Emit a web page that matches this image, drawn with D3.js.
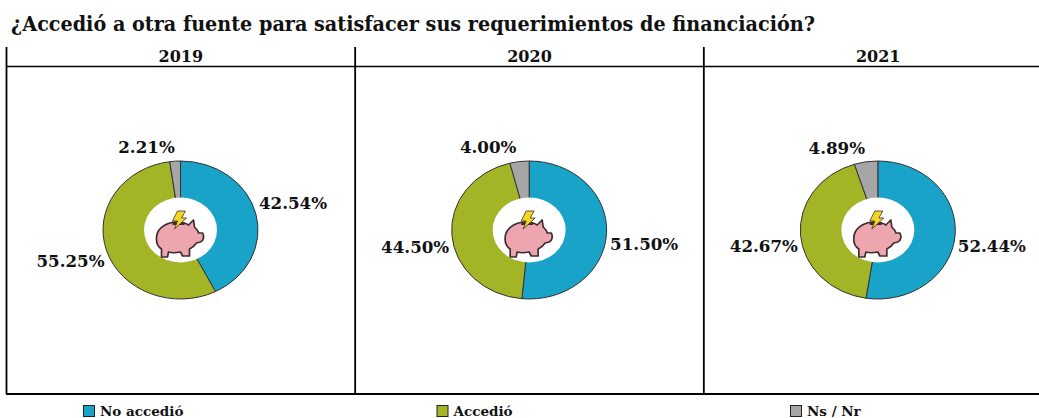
<!DOCTYPE html>
<html><head><meta charset="utf-8">
<script src="https://d3js.org/d3.v7.min.js"></script>
<style>html,body{margin:0;padding:0;background:#fff}svg{display:block}
text{font-family:"DejaVu Serif",serif;font-weight:bold;fill:#111}</style></head>
<body><svg id="c" width="1039" height="418"></svg>
<script>
const chartTitle="¿Accedió a otra fuente para satisfacer sus requerimientos de financiación?";
const years=["2019","2020","2021"];
const categories=["No accedió","Accedió","Ns / Nr"];
const colors=["#1aa3c8","#a3b527","#a6a6a6"];
const values2019=[42.54,55.25,2.21];
const values2020=[51.50,44.50,4.00];
const values2021=[52.44,42.67,4.89];
const allValues=[values2019,values2020,values2021];
const labelOffsets=[
 [[112.5,-21],[-110,37],[-34,-77]],
 [[115,20],[-114,23],[-41,-77]],
 [[114,22],[-114,22],[-41,-76]]
];
const svg=d3.select("#c");
svg.append("text").attr("x",11).attr("y",31).attr("font-size",20).attr("textLength",804).attr("lengthAdjust","spacingAndGlyphs").text(chartTitle);

const x=d3.scaleBand().domain(years).range([6.5,703.5+349]).paddingInner(0).paddingOuter(0);
const frameTop=47,head=66.5,bot=394;
const band=x.bandwidth();
const rule=(x1,y1,x2,y2,w)=>svg.append("line").attr("x1",x1).attr("y1",y1).attr("x2",x2).attr("y2",y2).attr("stroke","#000").attr("stroke-width",w);
rule(6.5,head,1039,head,1.3);
rule(6,bot,1039,bot,1.8);
years.forEach(y=>rule(x(y),frameTop,x(y),bot,1.8));

const pie=d3.pie().sort(null).value(d=>d);
const R=77.5, Ry=69, r=36.5;
const arc=d3.arc().innerRadius(r-1).outerRadius(R);
const defs=svg.append("defs");
const pig=defs.append("g").attr("id","pig");
const ink="#3f2c33";
pig.append("path").attr("d","M-22,6 C-23,-5 -13,-12 -1,-12 C4,-12 7,-11 10,-9 L15,-14 L16,-7 C18,-5 20,-3 20,-1 L24,-1 C26,2 25,7 22,8 L18,9 C16,12 13,14 11,15 L11,22 L4,22 L2,18 C-3,19 -7,19 -10,18 L-11,23 L-17,23 L-17,15 C-20,13 -22,10 -22,6 Z")
  .attr("fill","#eda6ad").attr("stroke",ink).attr("stroke-width",1.7).attr("stroke-linejoin","round");
pig.append("path").attr("d","M-6,-12 L6,-12 L6,-9 L-6,-9 Z").attr("fill",ink);
pig.append("path").attr("d","M-1,-23 L7,-23 L3,-16 L8,-16 L-4,-5 L-1,-13 L-6,-13 Z").attr("fill","#f4d81f").attr("stroke",ink).attr("stroke-width",0.8).attr("stroke-linejoin","round");

years.forEach((y,i)=>{
  const cx=x(y)+174, cy=230;
  svg.append("text").attr("x",x(y)+band/2).attr("y",62).attr("text-anchor","middle").attr("font-size",16).text(y);
  const g=svg.append("g").attr("transform",`translate(${cx},${cy}) scale(1,${Ry/R})`);
  g.selectAll("path").data(pie(allValues[i])).join("path")
    .attr("d",arc).attr("fill",(d,k)=>colors[k]).attr("stroke","#333").attr("stroke-width",1).attr("vector-effect","non-scaling-stroke");
  g.append("circle").attr("r",r).attr("fill","#fff");
  svg.append("use").attr("href","#pig").attr("x",cx-2).attr("y",cy+4);
  allValues[i].forEach((v,k)=>{
    svg.append("text").attr("x",cx+labelOffsets[i][k][0]).attr("y",cy+labelOffsets[i][k][1]).attr("text-anchor","middle").attr("font-size",16.7).text(v.toFixed(2)+"%");
  });
});
const legendX=d3.scalePoint().domain(categories).range([83,790]);
categories.forEach((c,k)=>{
  svg.append("rect").attr("x",legendX(c)+.5).attr("y",405.5).attr("width",11).attr("height",11).attr("fill",colors[k]).attr("stroke","#222").attr("stroke-width",1);
  svg.append("text").attr("x",legendX(c)+17).attr("y",416).attr("font-size",13.5).text(c);
});
</script></body></html>
